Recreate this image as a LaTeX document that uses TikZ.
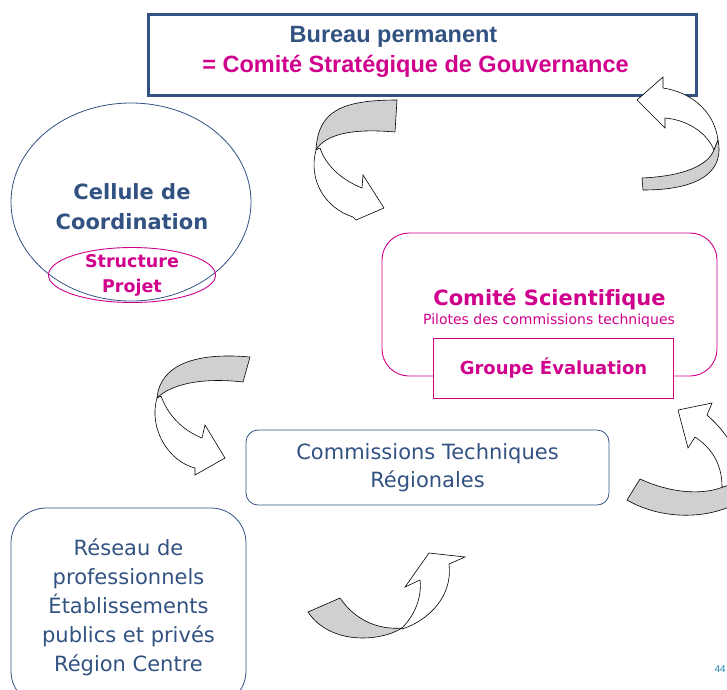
\documentclass[tikz,border=0pt]{standalone}
\usepackage{fontspec}
\setmainfont{DejaVu Sans}[Ligatures=NoCommon]
\newfontfamily\arialfont{Liberation Sans}
\usepackage{tikz}
\usetikzlibrary{shapes.geometric}
\definecolor{bleu}{RGB}{50,82,130}
\definecolor{rose}{RGB}{208,0,140}
\definecolor{ruban}{RGB}{208,208,208}
\tikzstyle{box} = [draw=bleu, line width=0.8pt, inner sep=0pt]
\tikzstyle{rosebox} = [draw=rose, line width=0.9pt, inner sep=0pt]
\tikzstyle{ribbon} = [draw=black, fill=ruban, line width=0.6pt, line join=round]
\tikzstyle{ribbonhead} = [draw=black, fill=white, line width=0.6pt, line join=miter]
\tikzset{
  titre/.style ={font=\arialfont\bfseries\fontsize{23.5}{28}\selectfont, anchor=base}
}

\begin{document}
\begin{tikzpicture}[x=1pt,y=-1pt,line cap=round]
\useasboundingbox (0,0) rectangle (727,689);
\clip (0,0) rectangle (727,689);

\node[box, line width=3pt, minimum width=548pt, minimum height=81pt] (bureau) at (422.5,55) {};
\node[titre, text=bleu] (bureau1) at (393.5,42) {Bureau permanent};
\node[titre, text=rose] (bureau2) at (415.5,72) {= Comité Stratégique de Gouvernance};

\node[box, ellipse, minimum width=240pt, minimum height=198pt] (cellule) at (131,202) {};
\node[font=\bfseries\fontsize{21}{30}\selectfont, text=bleu, align=center] (cellule text) at (132,207) {Cellule de\\Coordination};
\node[rosebox, ellipse, minimum width=167pt, minimum height=55pt] (projet) at (132,275) {};
\node[font=\bfseries\fontsize{17.5}{25}\selectfont, text=rose, align=center] (projet text) at (132,275) {Structure\\Projet};

\node[rosebox, rounded corners=27pt, minimum width=335pt, minimum height=143pt] (comite) at (549.5,304.5) {};
\node[font=\bfseries\fontsize{21}{25}\selectfont, text=rose, anchor=base] (comite titre) at (549.5,305) {Comité Scientifique};
\node[font=\fontsize{14}{16}\selectfont, text=rose, anchor=base] (pilotes) at (549,324) {Pilotes des commissions techniques};
\node[rosebox, fill=white, minimum width=240pt, minimum height=60pt, font=\bfseries\fontsize{18}{22}\selectfont, text=rose] (groupe) at (553.5,368) {Groupe Évaluation};

\node[box, rounded corners=12pt, minimum width=363pt, minimum height=75pt, font=\fontsize{21}{28}\selectfont, text=bleu, align=center] (commissions) at (427.5,467.5) {Commissions Techniques\\Régionales};

\node[box, rounded corners=35pt, minimum width=235pt, minimum height=198pt, font=\fontsize{21}{29}\selectfont, text=bleu, align=center] (reseau) at (128.5,607) {Réseau de\\professionnels\\Établissements\\publics et privés\\Région Centre};

\node[font=\arialfont\fontsize{10}{12}\selectfont, text=bleu!70!cyan, anchor=east, inner sep=1pt] (page) at (727,669) {44};

\draw[ribbonhead] (316,150) .. controls (308,180) and (325,208) .. (353,217) -- (356,220) -- (384,208) -- (363,175) -- (362,188) .. controls (342,180) and (326,166) .. (320,148) -- cycle;
\draw[ribbon] (397,100) .. controls (340,100) and (318,112) .. (316,150) .. controls (325,135) and (350,128) .. (395,132) -- cycle;

\draw[ribbonhead] (718,140) .. controls (714,110) and (690,92) .. (663,88) -- (663,77) -- (637,100) -- (665,128) -- (665,118) .. controls (688,120) and (707,133) .. (714,150) -- cycle;
\draw[ribbon] (642,178) .. controls (685,176) and (708,165) .. (714,150) -- (718,140) .. controls (724,168) and (705,190) .. (643,190) -- cycle;

\draw[ribbonhead] (157,398) .. controls (148,430) and (170,462) .. (195,468) -- (195,475) -- (225,458) -- (205,425) -- (202,438) .. controls (182,430) and (168,415) .. (161,396) -- cycle;
\draw[ribbon] (250,357) .. controls (195,352) and (160,365) .. (157,398) .. controls (170,385) and (200,377) .. (243,382) -- cycle;

\draw[ribbonhead] (722,487) .. controls (722,462) and (710,447) .. (695,437) -- (688,448) -- (678,410) -- (712,403) -- (707,415) .. controls (730,435) and (748,465) .. (742,495) -- cycle;
\draw[ribbon] (640,479) .. controls (668,492) and (700,496) .. (723,487) -- (750,478) -- (750,495) .. controls (718,520) and (665,522) .. (627,500) -- cycle;

\draw[ribbonhead] (402,628) .. controls (415,615) and (422,597) .. (420,580) -- (405,587) -- (429,553) -- (465,557) -- (449,564) .. controls (453,595) and (430,620) .. (402,629) -- cycle;
\draw[ribbon] (340,598) .. controls (355,620) and (378,630) .. (402,628) .. controls (380,642) and (330,645) .. (308,612) -- cycle;
\end{tikzpicture}
\end{document}
